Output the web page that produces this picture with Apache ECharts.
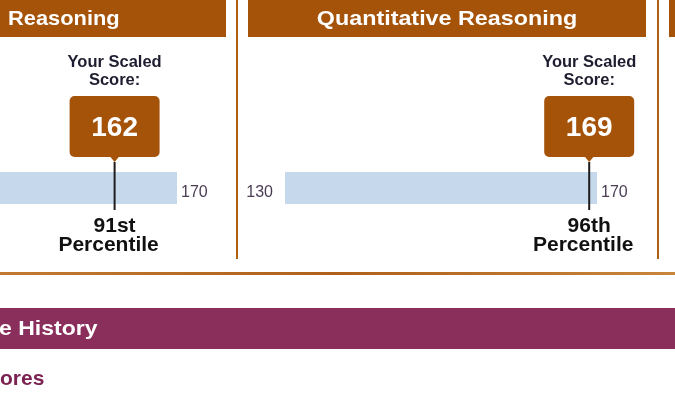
<!DOCTYPE html>
<html>
<head>
<meta charset="utf-8">
<script src="https://cdn.jsdelivr.net/npm/echarts@6/dist/echarts.min.js"></script>
<style>
html,body{margin:0;padding:0;background:#fff;}
#chart{width:675px;height:396px;}
</style>
</head>
<body>
<div id="chart"></div>
<script>
// ---- data ----
const panelTitles = ['Reasoning', 'Quantitative Reasoning'];
const scores = [162, 169];
const percentiles = ['91st', '96th'];
const scaleMin = 130;
const scaleMax = 170;
const tickLabels = ['130', '170'];
const sectionTitle = 'e History';
const subTitle = 'ores';

// ---- styles ----
const FONT = '"Liberation Sans", Arial, sans-serif';
const BROWN = '#a55309';
const BORDER = '#b0600f';
const BAR = '#c6d9ec';
const PURPLE = '#8a2e5b';

const chart = echarts.init(document.getElementById('chart'), null, {renderer: 'canvas'});

const grids = [
  {left: -135, top: 172, width: 312, height: 32, containLabel: false, outerBoundsMode: 'none'},
  {left: 285, top: 172, width: 312, height: 32, containLabel: false, outerBoundsMode: 'none'}
];

const xAxes = grids.map((g, i) => ({
  type: 'value', gridIndex: i, min: scaleMin, max: scaleMax, show: false
}));
const yAxes = grids.map((g, i) => ({
  type: 'category', gridIndex: i, data: ['score'], show: false
}));

function rangeRender(params, api) {
  const p0 = api.coord([api.value(0), 0]);
  const p1 = api.coord([api.value(1), 0]);
  const band = api.size([0, 1])[1];
  const cy = p0[1];
  return {
    type: 'group',
    children: [
      {type: 'rect', shape: {x: p0[0], y: cy - band / 2, width: p1[0] - p0[0], height: band},
       style: {fill: BAR}},
      {type: 'text', x: p0[0] - 12, y: cy + 5,
       style: {text: tickLabels[0], fill: '#4a3d55', font: '16px ' + FONT, align: 'right', verticalAlign: 'middle'}},
      {type: 'text', x: p1[0] + 4, y: cy + 5,
       style: {text: tickLabels[1], fill: '#4a3d55', font: '16px ' + FONT, align: 'left', verticalAlign: 'middle'}}
    ]
  };
}

function markerRender(idx) {
  return function (params, api) {
    const p = api.coord([api.value(0), 0]);
    const x = p[0];
    const barTop = 172;
    const boxTop = barTop - 76, boxBottom = barTop - 15;
    return {
      type: 'group',
      children: [
        {type: 'text', x: x, y: boxTop - 34,
         style: {text: 'Your Scaled', fill: '#1e1e30', font: 'bold 16.5px ' + FONT, align: 'center', verticalAlign: 'middle'}},
        {type: 'text', x: x, y: boxTop - 16,
         style: {text: 'Score:', fill: '#1e1e30', font: 'bold 16.5px ' + FONT, align: 'center', verticalAlign: 'middle'}},
        {type: 'rect', shape: {x: x - 45, y: boxTop, width: 90, height: boxBottom - boxTop, r: 5},
         style: {fill: BROWN}},
        {type: 'polygon', shape: {points: [[x - 5, boxBottom - 1], [x + 5, boxBottom - 1], [x, boxBottom + 5]]},
         style: {fill: BROWN}},
        {type: 'line', shape: {x1: x, y1: boxBottom + 5, x2: x, y2: barTop + 38},
         style: {stroke: '#1d1d1d', lineWidth: 2}},
        {type: 'text', x: x, y: boxTop + 32,
         style: {text: String(api.value(0)), fill: '#ffffff', font: 'bold 28px ' + FONT, align: 'center', verticalAlign: 'middle'}},
        {type: 'text', x: x, y: barTop + 54,
         style: {text: percentiles[idx], fill: '#111111', font: 'bold 21px ' + FONT, align: 'center', verticalAlign: 'middle'}},
        {type: 'text', x: x - 6, y: barTop + 73,
         style: {text: 'Percentile', fill: '#111111', font: 'bold 21px ' + FONT, align: 'center', verticalAlign: 'middle'}}
      ]
    };
  };
}

const series = [];
grids.forEach((g, i) => {
  series.push({
    type: 'custom', xAxisIndex: i, yAxisIndex: i, silent: true, clip: false, z: 2,
    data: [[scaleMin, scaleMax, 0]],
    encode: {x: [0, 1], y: 2},
    renderItem: rangeRender
  });
  series.push({
    type: 'custom', xAxisIndex: i, yAxisIndex: i, silent: true, clip: false, z: 3,
    data: [[scores[i], 0]],
    encode: {x: 0, y: 1},
    renderItem: markerRender(i)
  });
});

const graphic = [
  // headers
  {type: 'rect', shape: {x: -20, y: 0, width: 246, height: 37}, style: {fill: BROWN}},
  {type: 'rect', shape: {x: 248, y: 0, width: 398, height: 37}, style: {fill: BROWN}},
  {type: 'rect', shape: {x: 669, y: 0, width: 20, height: 37}, style: {fill: BROWN}},
  {type: 'text', x: 8, y: 19.5, scaleX: 1.04,
   style: {text: panelTitles[0], fill: '#ffffff', font: 'bold 21px ' + FONT, align: 'left', verticalAlign: 'middle'}},
  {type: 'text', x: 447, y: 19.5, scaleX: 1.11,
   style: {text: panelTitles[1], fill: '#ffffff', font: 'bold 21px ' + FONT, align: 'center', verticalAlign: 'middle'}},
  // panel borders
  {type: 'line', shape: {x1: 237, y1: 0, x2: 237, y2: 259}, style: {stroke: BORDER, lineWidth: 2}},
  {type: 'line', shape: {x1: 658, y1: 0, x2: 658, y2: 259}, style: {stroke: BORDER, lineWidth: 2}},
  // bottom rule
  {type: 'rect', shape: {x: 0, y: 272, width: 675, height: 3},
   style: {fill: new echarts.graphic.LinearGradient(0, 0, 1, 0, [
     {offset: 0, color: '#c27a33'}, {offset: 0.5, color: '#b0601a'}, {offset: 1, color: '#c8853c'}])}},
  // purple band
  {type: 'rect', shape: {x: 0, y: 308, width: 675, height: 41}, style: {fill: PURPLE}},
  {type: 'text', x: -1, y: 329, scaleX: 1.15,
   style: {text: sectionTitle, fill: '#ffffff', font: 'bold 20px ' + FONT, align: 'left', verticalAlign: 'middle'}},
  {type: 'text', x: 0, y: 379, scaleX: 1.0,
   style: {text: subTitle, fill: '#7b2451', font: 'bold 21px ' + FONT, align: 'left', verticalAlign: 'middle'}}
];

chart.setOption({
  animation: false,
  backgroundColor: '#ffffff',
  grid: grids,
  xAxis: xAxes,
  yAxis: yAxes,
  series: series,
  graphic: graphic
});
</script>
</body>
</html>
